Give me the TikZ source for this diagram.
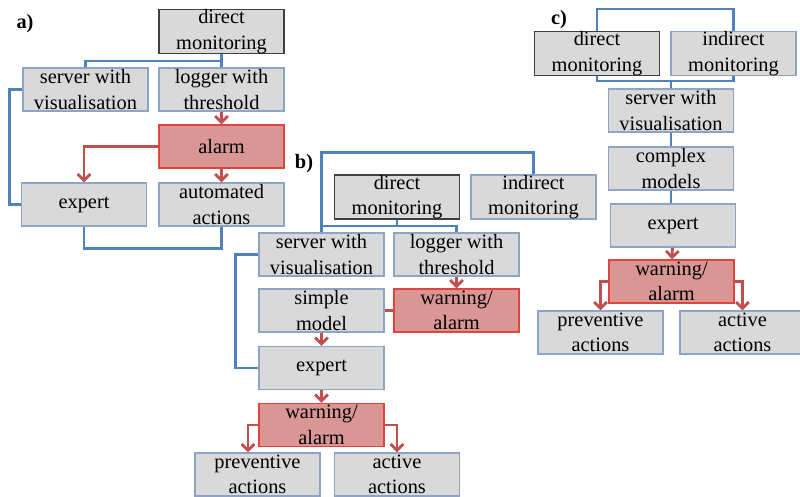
\documentclass[tikz,border=0pt]{standalone}
\usepackage{fontspec}
\setmainfont{Liberation Serif}[Ligatures=TeX]
\newfontfamily\boxfont{Liberation Serif}
\usepackage{tikz}
\usetikzlibrary{arrows.meta,calc,positioning}
\definecolor{boxfill}{RGB}{217,217,217}
\definecolor{boxline}{RGB}{141,164,196}
\definecolor{srcline}{RGB}{64,64,64}
\definecolor{alarmfill}{RGB}{217,150,148}
\definecolor{alarmline}{RGB}{224,68,62}
\definecolor{flowblue}{RGB}{79,129,189}
\definecolor{flowred}{RGB}{192,80,77}

\begin{document}
\begin{tikzpicture}[x=0.025cm, y=-0.025cm,
  every node/.style={font=\boxfont\fontsize{14.5}{18}\selectfont, align=center},
  box/.style={draw=boxline, fill=boxfill, line width=1pt, inner sep=0pt,
    minimum width=3.125cm, minimum height=1.075cm},
  srcbox/.style={box, draw=srcline},
  alarmbox/.style={box, draw=alarmline, fill=alarmfill},
  link/.style={flowblue, line width=1.9pt},
  warn/.style={flowred, line width=2pt, -{Straight Barb[length=4.5pt, width=9pt]}},
  tag/.style={font=\boxfont\fontsize{14.5}{16}\selectfont\bfseries}]
\useasboundingbox (0,0) rectangle (800,497);

% Panel a
\node[tag] (alabel) at (25,24) {a)};
\node[srcbox] (adm) at (221.5,31.5) {direct\\monitoring};
\node[box] (asrv) at (85.5,89.5) {server with\\visualisation};
\node[box] (alog) at (221.5,89.5) {logger with\\threshold};
\node[alarmbox] (aalarm) at (221.5,146.5) {alarm};
\node[box] (aexp) at (84,204.5) {expert};
\node[box] (aauto) at (221.5,204.5) {automated\\actions};
\coordinate (ajoin) at (221.5,61);

\draw[link] (adm.south) -- (ajoin) -| (asrv.north);
\draw[link] (ajoin) -- (alog.north);
\draw[link] (asrv.west) -- ++(-13,0) |- (aexp.west);
\draw[link] (aexp.south) -- ++(0,22) -| (aauto.south);
\draw[warn] (alog) -- (aalarm);
\draw[warn] (aalarm.west) -| (aexp.north);
\draw[warn] (aalarm) -- (aauto);

% Panel b
\node[tag] (blabel) at (304,164) {b)};
\node[srcbox] (bdm) at (397,197) {direct\\monitoring};
\node[box] (bind) at (533.5,197) {indirect\\monitoring};
\node[box] (bsrv) at (321.5,254.5) {server with\\visualisation};
\node[box] (blog) at (456.5,254.5) {logger with\\threshold};
\node[box] (bsim) at (321.5,310.5) {simple\\model};
\node[alarmbox] (bwarn) at (456.5,310.5) {warning/\\alarm};
\node[box] (bexp) at (321.5,368) {expert};
\node[alarmbox] (bwarntwo) at (321.5,425) {warning/\\alarm};
\node[box] (bprev) at (257.5,474.5) {preventive\\actions};
\node[box] (bact) at (397,474.5) {active\\actions};
\coordinate (bjoin) at (397,226);

\draw[link] (bind.north) -- ++(0,-22) -| (bsrv.north);
\draw[link] (bdm.south) -- (bjoin) -| (bsrv.north);
\draw[link] (bjoin) -| (blog.north);
\draw[link] (bsrv.west) -- ++(-23,0) |- (bexp.west);
\draw[warn] (blog) -- (bwarn);
\draw[flowred, line width=2pt] (bsim.east) -- (bwarn.west);
\draw[warn] (bsim) -- (bexp);
\draw[warn] (bexp) -- (bwarntwo);
\draw[warn] (bwarntwo.west) -| ($(bprev.north)+(-9.5,0)$);
\draw[warn] (bwarntwo.east) -| (bact.north);

% Panel c
\node[tag] (clabel) at (559,20) {c)};
\node[srcbox] (cdm) at (597,53.5) {direct\\monitoring};
\node[box] (cind) at (733.5,53.5) {indirect\\monitoring};
\node[box] (csrv) at (671,110.5) {server with\\visualisation};
\node[box] (ccpx) at (671,168.5) {complex\\models};
\node[box] (cexp) at (673,225.5) {expert};
\node[alarmbox] (cwarn) at (671.5,281.5) {warning/\\alarm};
\node[box] (cprev) at (600.5,332.5) {preventive\\actions};
\node[box] (cact) at (742.5,332.5) {active\\actions};
\coordinate (cjoin) at (671,81);

\draw[link] (cdm.north) -- ++(0,-22) -| (cind.north);
\draw[link] (cdm.south) |- (cjoin) -| (cind.south);
\draw[link] (cjoin) -- (csrv.north);
\draw[link] (csrv) -- (ccpx);
\draw[link] (ccpx.south) -- (ccpx.south |- cexp.north);
\draw[warn] (cexp) -- (cwarn);
\draw[warn] (cwarn.west) -| (cprev.north);
\draw[warn] (cwarn.east) -| (cact.north);
\end{tikzpicture}
\end{document}
